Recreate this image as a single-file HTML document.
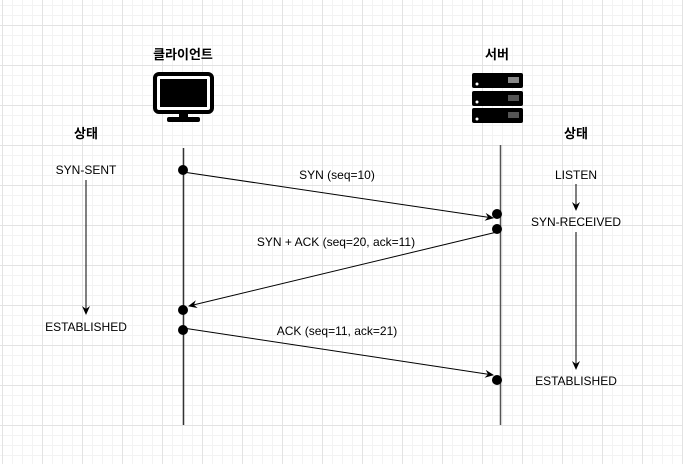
<!DOCTYPE html>
<html><head><meta charset="utf-8"><style>
html,body{margin:0;padding:0;background:#fff;}
body{width:683px;height:464px;overflow:hidden;position:relative;
background-image:
linear-gradient(to right,#e3e3e3 1px,transparent 1px),
linear-gradient(to bottom,#e3e3e3 1px,transparent 1px),
linear-gradient(to right,#f3f3f3 1px,transparent 1px),
linear-gradient(to bottom,#f3f3f3 1px,transparent 1px);
background-size:40px 40px,40px 40px,10px 10px,10px 10px;
background-position:2px 0,0 25px,2px 0,0 5px;}
svg{position:absolute;left:0;top:0;}
text{font-family:"Liberation Sans","Noto Sans CJK KR",sans-serif;font-size:12px;fill:#000;}
.b{font-weight:bold;font-size:13px;}
</style></head><body>
<svg width="683" height="464" viewBox="0 0 683 464">
<defs><marker id="a" markerWidth="10" markerHeight="10" refX="8" refY="4" orient="auto" markerUnits="userSpaceOnUse"><path d="M0,0 L9,4 L0,8 L3,4 Z" fill="#000"/></marker></defs>
<text class="b" x="183" y="59" text-anchor="middle">클라이언트</text>
<text class="b" x="497" y="59" text-anchor="middle">서버</text>
<text class="b" x="86" y="138" text-anchor="middle">상태</text>
<text class="b" x="576" y="138" text-anchor="middle">상태</text>
<rect x="155" y="74" width="57" height="38" rx="4" fill="#fff" stroke="#000" stroke-width="4"/>
<rect x="160" y="79" width="47" height="28" fill="#000"/>
<rect x="179" y="112" width="9" height="6" fill="#000"/>
<rect x="167" y="117" width="33" height="5" rx="2" fill="#000"/>
<g fill="#000">
<rect x="472" y="73" width="51" height="15" rx="2"/>
<rect x="472" y="91" width="51" height="15" rx="2"/>
<rect x="472" y="108" width="51" height="15" rx="2"/>
</g>
<g fill="#fff"><circle cx="477" cy="84" r="1.5"/><circle cx="477" cy="102" r="1.5"/><circle cx="477" cy="119" r="1.5"/></g>
<rect x="508" y="77" width="11" height="6" fill="#888"/>
<g stroke="#aaa" stroke-width="1"><path d="M508 96h11M508 98h11M508 100h11M508 113h11M508 115h11M508 117h11"/></g>
<line x1="183.5" y1="148" x2="183.5" y2="425" stroke="#333" stroke-width="1.5"/>
<line x1="500.5" y1="145" x2="500.5" y2="425" stroke="#555" stroke-width="1.5"/>
<g stroke="#000" stroke-width="1" fill="none">
<line x1="183" y1="172" x2="493" y2="218" marker-end="url(#a)"/>
<line x1="497" y1="232" x2="189" y2="306" marker-end="url(#a)"/>
<line x1="183" y1="328" x2="493" y2="375" marker-end="url(#a)"/>
<line x1="86" y1="180" x2="86" y2="314" marker-end="url(#a)"/>
<line x1="576" y1="184" x2="576" y2="210" marker-end="url(#a)"/>
<line x1="576" y1="232" x2="576" y2="369" marker-end="url(#a)"/>
</g>
<g fill="#000">
<circle cx="183" cy="170" r="5"/><circle cx="497" cy="214" r="5"/><circle cx="497" cy="229" r="5"/>
<circle cx="183" cy="310" r="5"/><circle cx="183" cy="330" r="5"/><circle cx="497" cy="380" r="5"/>
</g>
<text x="337" y="179" text-anchor="middle">SYN (seq=10)</text>
<text x="336" y="246" text-anchor="middle">SYN + ACK (seq=20, ack=11)</text>
<text x="337" y="335" text-anchor="middle">ACK (seq=11, ack=21)</text>
<text x="86" y="174" text-anchor="middle">SYN-SENT</text>
<text x="86" y="331" text-anchor="middle">ESTABLISHED</text>
<text x="576" y="179" text-anchor="middle">LISTEN</text>
<text x="576" y="226" text-anchor="middle">SYN-RECEIVED</text>
<text x="576" y="385" text-anchor="middle">ESTABLISHED</text>
</svg>
</body></html>
